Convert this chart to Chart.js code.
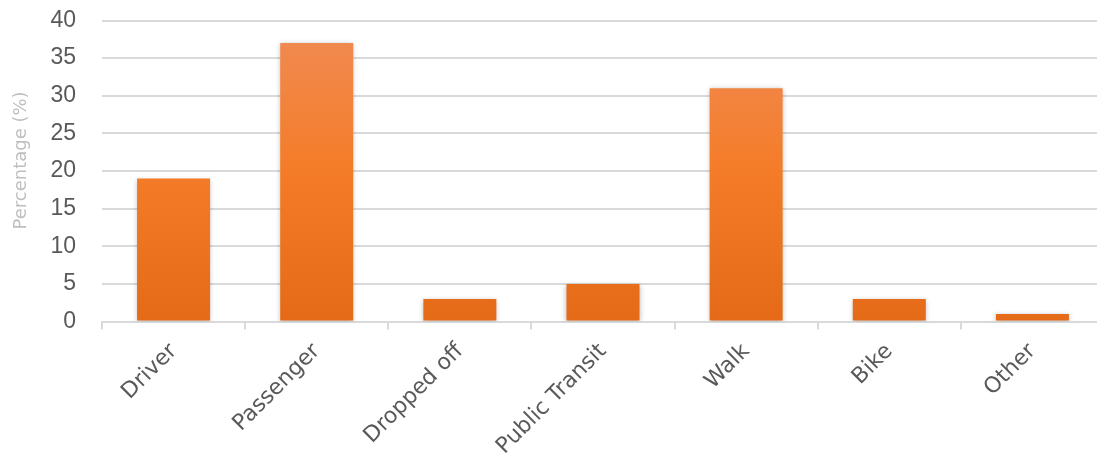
<!DOCTYPE html>
<html>
<head>
<meta charset="utf-8">
<script src="https://cdn.jsdelivr.net/npm/chart.js@4.4.1/dist/chart.umd.min.js"></script>
<style>
  html, body { margin: 0; padding: 0; background: #fff; overflow: hidden; }
  #wrap { position: absolute; left: 0; top: 0; width: 1104px; height: 457px; }
</style>
</head>
<body>
<div id="wrap"><canvas id="c"></canvas></div>
<script>
const categories = ["Driver", "Passenger", "Dropped off", "Public Transit", "Walk", "Bike", "Other"];
const percentages = [19, 37, 3, 5, 31, 3, 1];
const yTicks = [0, 5, 10, 15, 20, 25, 30, 35, 40];
const yTitle = "Percentage (%)";

const LABEL_FONT = "'DejaVu Sans', 'Open Sans', sans-serif";
const NUM_FONT = "'Liberation Sans', Arial, sans-serif";

function barGradient(context) {
  const chart = context.chart;
  const area = chart.chartArea;
  if (!area) return '#F07B2A';
  const el = context.element;
  const ctx = chart.ctx;
  let top = area.top, bottom = area.bottom;
  if (el && typeof el.y === 'number' && typeof el.base === 'number' && el.base > el.y) {
    top = el.y; bottom = el.base;
  }
  const g = ctx.createLinearGradient(0, top, 0, bottom);
  g.addColorStop(0, '#F08C55');
  g.addColorStop(0.5, '#F47C28');
  g.addColorStop(1, '#E46A17');
  return g;
}

const shadowPlugin = {
  id: 'barShadow',
  beforeDatasetsDraw(chart) {
    const ctx = chart.ctx;
    ctx.save();
    ctx.shadowColor = 'rgba(0,0,0,0.28)';
    ctx.shadowBlur = 5;
    ctx.shadowOffsetX = 0;
    ctx.shadowOffsetY = 1;
  },
  afterDatasetsDraw(chart) {
    chart.ctx.restore();
  }
};

// y-axis title, drawn a little above the plot's vertical centre as in the reference
const yTitlePlugin = {
  id: 'yTitle',
  afterDraw(chart) {
    const ctx = chart.ctx;
    const area = chart.chartArea;
    ctx.save();
    ctx.translate(21, area.top + (area.bottom - area.top) * 0.465);
    ctx.rotate(-Math.PI / 2);
    ctx.fillStyle = '#bfbfbf';
    ctx.font = "18px " + LABEL_FONT;
    ctx.textAlign = 'center';
    ctx.textBaseline = 'middle';
    ctx.fillText(yTitle, 0, 0);
    ctx.restore();
  }
};

new Chart(document.getElementById('c'), {
  type: 'bar',
  data: {
    labels: categories,
    datasets: [{
      data: percentages,
      backgroundColor: barGradient,
      borderWidth: 0,
      categoryPercentage: 1.0,
      barPercentage: 0.51
    }]
  },
  plugins: [shadowPlugin, yTitlePlugin],
  options: {
    responsive: true,
    maintainAspectRatio: false,
    animation: false,
    layout: { padding: { top: 20.5, right: 0, left: 0, bottom: 0 } },
    plugins: {
      legend: { display: false },
      tooltip: { enabled: false }
    },
    scales: {
      x: {
        offset: true,
        grid: {
          offset: true,
          drawOnChartArea: false,
          drawTicks: true,
          tickLength: 8,
          color: '#d9d9d9',
          lineWidth: 2
        },
        border: { display: true, color: '#d9d9d9', width: 2 },
        ticks: {
          color: '#595959',
          font: { family: LABEL_FONT, size: 22 },
          minRotation: 45,
          maxRotation: 45,
          autoSkip: false,
          padding: 9
        },
        afterFit(scale) {
          scale.height = 135.5;
          scale.paddingLeft = 0;
          scale.paddingRight = 0;
        }
      },
      y: {
        min: 0,
        max: 40,
        afterBuildTicks(scale) { scale.ticks = yTicks.map(v => ({ value: v })); },
        grid: {
          drawTicks: false,
          color: '#d9d9d9',
          lineWidth: 2
        },
        border: { display: false },
        ticks: {
          color: '#595959',
          font: { family: NUM_FONT, size: 23 },
          padding: 26
        },
        title: { display: false },
        afterFit(scale) {
          scale.width = 102;
          scale.paddingTop = 0;
          scale.paddingBottom = 0;
        }
      }
    }
  }
});
</script>
</body>
</html>
